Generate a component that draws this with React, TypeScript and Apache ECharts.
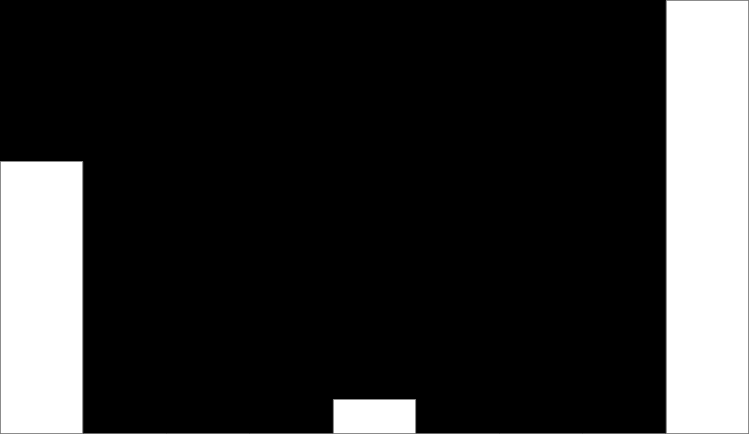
import React, { useEffect, useRef } from 'react';
import * as echarts from 'echarts';

const categories = ['1', '2', '3', '4', '5', '6', '7', '8', '9'];
const values = [39, 0, 0, 0, 5, 0, 0, 0, 62];

export default function App() {
  const chartRef = useRef<HTMLDivElement>(null);

  useEffect(() => {
    document.body.style.margin = '0';
    const chart = echarts.init(chartRef.current, null, { renderer: 'svg' });
    chart.setOption({
      animation: false,
      backgroundColor: '#000000',
      grid: { left: 0, right: 0, top: 0, bottom: 0 },
      xAxis: {
        type: 'category',
        data: categories,
        show: false,
      },
      yAxis: {
        type: 'value',
        min: 0,
        max: 'dataMax',
        show: false,
        splitLine: { show: false },
      },
      series: [
        {
          type: 'bar',
          data: values,
          barWidth: '100%',
          barCategoryGap: 0,
          itemStyle: {
            color: '#ffffff',
            borderColor: '#8c8c8c',
            borderWidth: 1,
          },
        },
      ],
    });
    return () => chart.dispose();
  }, []);

  return <div ref={chartRef} style={{ width: 749, height: 434 }} />;
}
